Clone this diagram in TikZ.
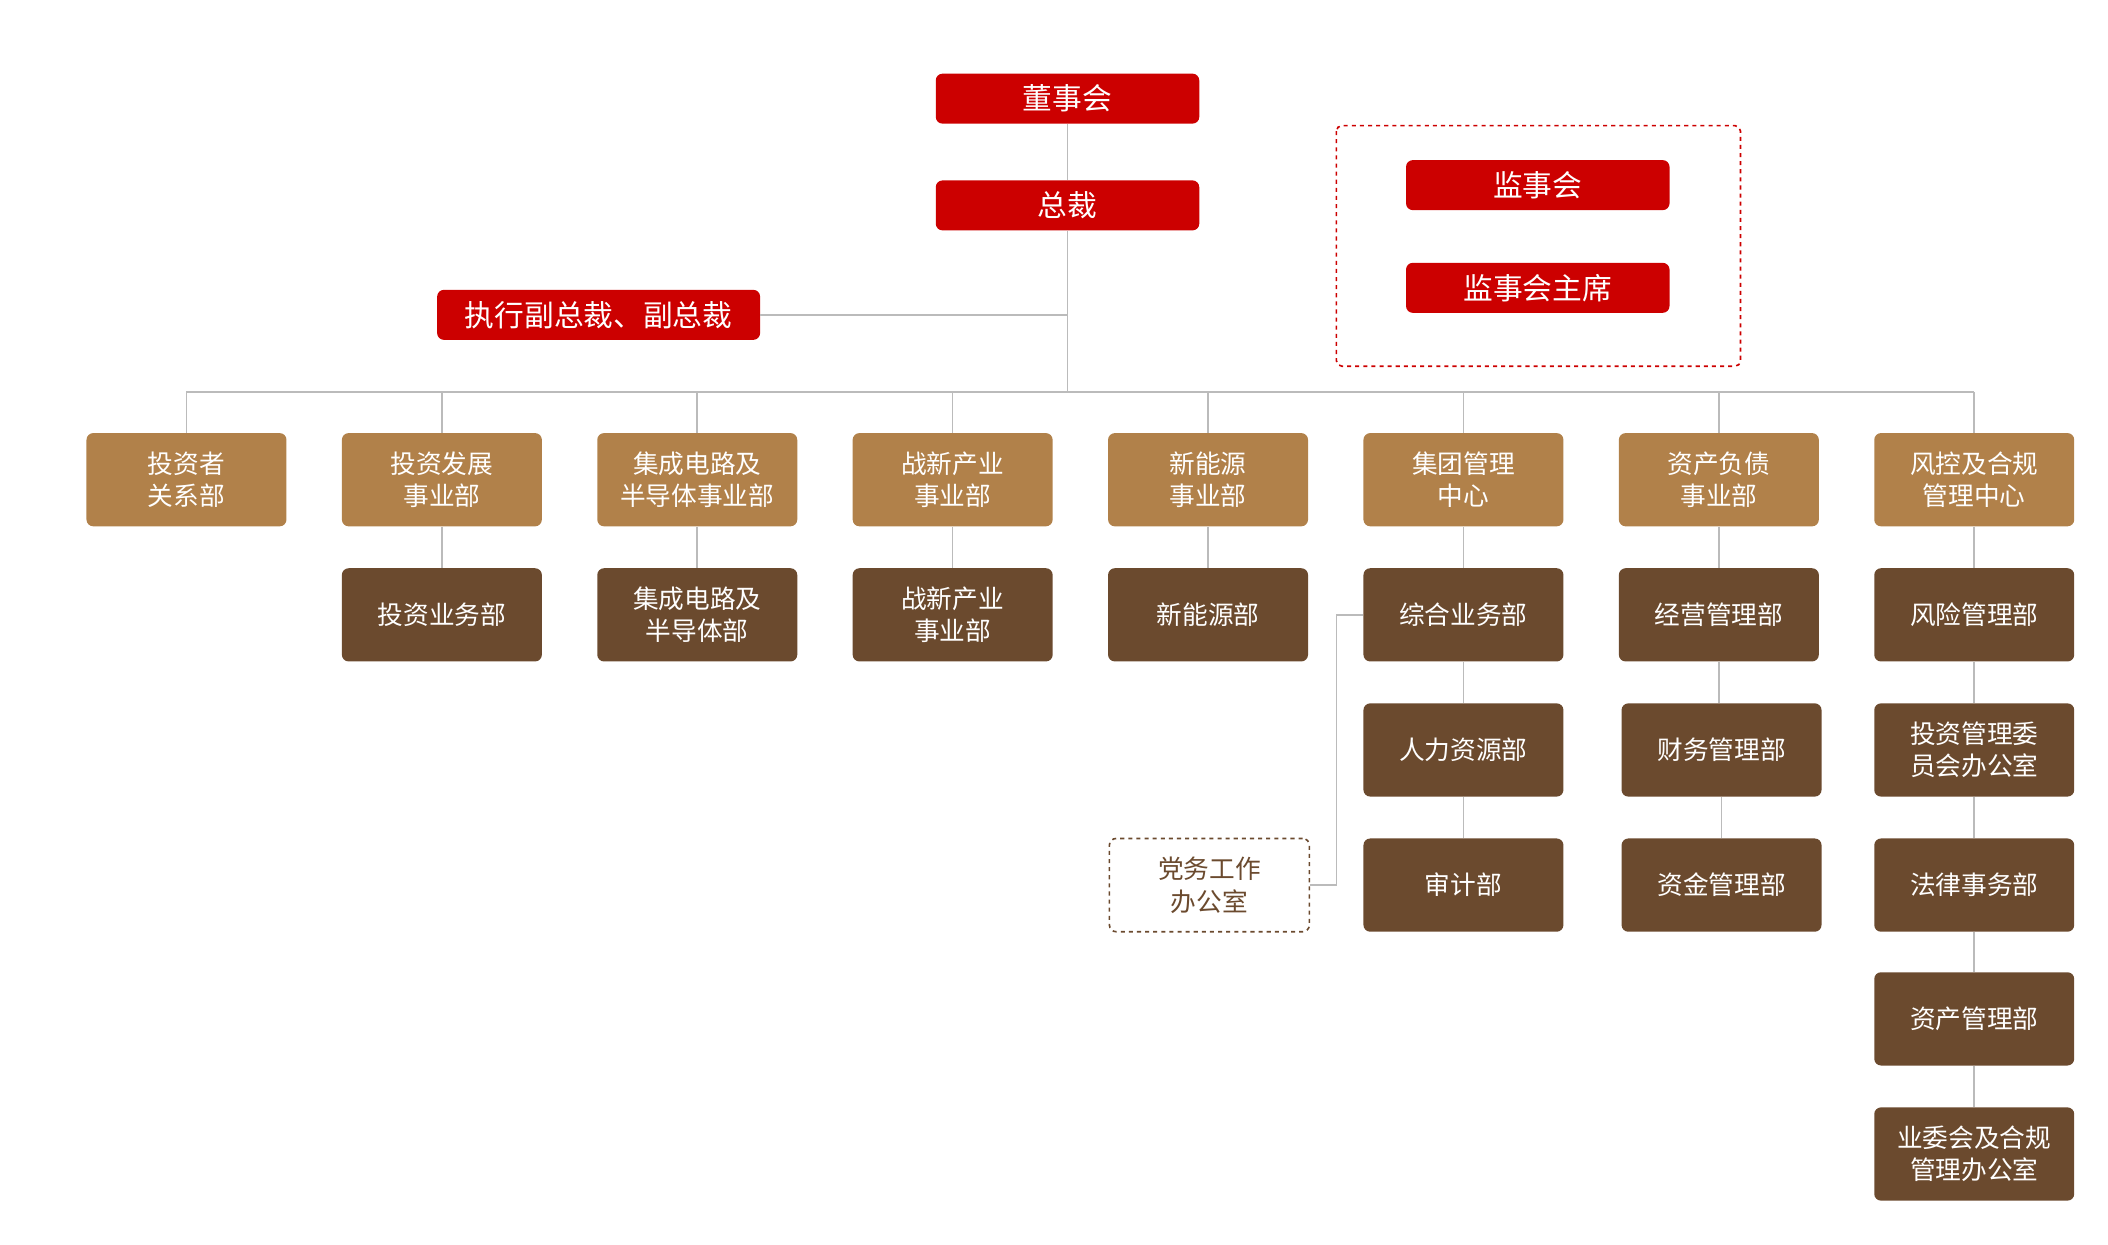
\documentclass[tikz,border=0pt]{standalone}
\usepackage{fontspec}
\setmainfont{Noto Sans CJK SC}
\begin{document}
\begin{tikzpicture}[x=1pt,y=-1pt,
  red/.style={fill=redc,rounded corners=5pt,minimum width=195pt,minimum height=37pt,text=white,font=\fontsize{22}{24}\selectfont},
  gold/.style={fill=goldc,rounded corners=5pt,minimum width=148pt,minimum height=69pt,text=white,align=center,font=\fontsize{19}{24}\selectfont},
  dark/.style={fill=darkc,rounded corners=5pt,minimum width=148pt,minimum height=69pt,text=white,align=center,font=\fontsize{19}{24}\selectfont},
  ln/.style={draw=linec,line width=1.2pt}]
\definecolor{redc}{HTML}{CC0000}
\definecolor{goldc}{HTML}{B1814A}
\definecolor{darkc}{HTML}{6B4A2E}
\definecolor{linec}{HTML}{BBBBBB}
\useasboundingbox (0,0) rectangle (1560,921);
\node[red] (dsh) at (790,73) {董事会};
\node[red] (zc) at (790,152) {总裁};
\node[red,minimum width=239pt] (fz) at (443,233) {执行副总裁、副总裁};
\draw[redc,dashed,line width=1.2pt,rounded corners=4pt] (989,93) rectangle (1288,271);
\node[red] (jsh) at (1138,137) {监事会};
\node[red] (jzx) at (1138,213) {监事会主席};
\coordinate (hub) at (790,290);
\coordinate (mid) at (790,233);
\coordinate (hl) at (138,290);
\coordinate (hr) at (1461,290);
\begin{scope}[on background layer/.try]
\end{scope}
\draw[ln] (dsh) -- (zc);
\draw[ln] (zc) -- (hub);
\draw[ln] (fz) -- (mid);
\draw[ln] (hl) -- (hr);
\foreach \x/\n/\t in {138/a/投资者\\关系部,327/b/投资发展\\事业部,516/c/集成电路及\\半导体事业部,705/d/战新产业\\事业部,894/e/新能源\\事业部,1083/f/集团管理\\中心,1272/g/资产负债\\事业部,1461/h/风控及合规\\管理中心}{
  \coordinate (t\n) at (\x,290);
  \node[gold] (\n) at (\x,355) {\t};
  \draw[ln] (t\n) -- (\n);
}
\node[dark] (b2) at (327,455) {投资业务部};
\node[dark] (c2) at (516,455) {集成电路及\\半导体部};
\node[dark] (d2) at (705,455) {战新产业\\事业部};
\node[dark] (e2) at (894,455) {新能源部};
\node[dark] (f2) at (1083,455) {综合业务部};
\node[dark] (f3) at (1083,555) {人力资源部};
\node[dark] (f4) at (1083,655) {审计部};
\node[dark] (g2) at (1272,455) {经营管理部};
\node[dark] (g3) at (1274,555) {财务管理部};
\node[dark] (g4) at (1274,655) {资金管理部};
\node[dark] (h2) at (1461,455) {风险管理部};
\node[dark] (h3) at (1461,555) {投资管理委\\员会办公室};
\node[dark] (h4) at (1461,655) {法律事务部};
\node[dark] (h5) at (1461,754) {资产管理部};
\node[dark] (h6) at (1461,854) {业委会及合规\\管理办公室};
\node[draw=darkc,dashed,line width=1.2pt,rounded corners=5pt,minimum width=148pt,minimum height=69pt,text=darkc,align=center,font=\fontsize{19}{24}\selectfont] (p) at (895,655) {党务工作\\办公室};
\foreach \a/\b in {b/b2,c/c2,d/d2,e/e2,f/f2,f2/f3,f3/f4,g/g2,h/h2,h2/h3,h3/h4,h4/h5,h5/h6}{\draw[ln] (\a) -- (\b);}
\draw[ln] (g2.south) -- (g2.south|-g3.north);
\draw[ln] (g3) -- (g4);
\draw[ln] (p.east) -- (989,655) -- (989,455) -- (f2.west);
\end{tikzpicture}
\end{document}
